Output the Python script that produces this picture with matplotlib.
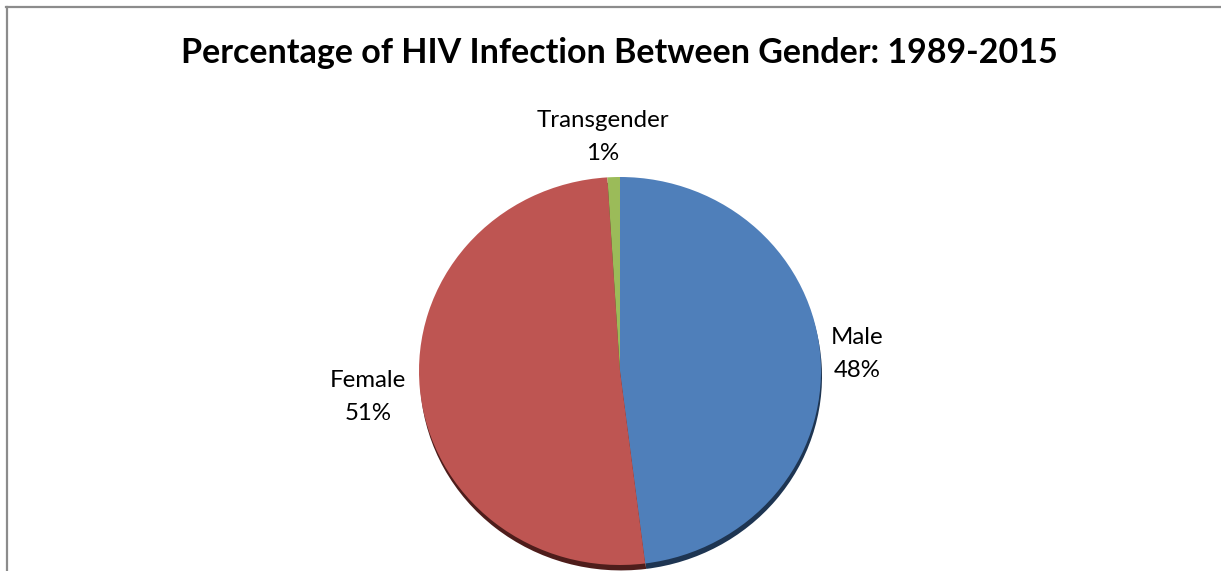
import numpy as np
import matplotlib.pyplot as plt
from matplotlib.lines import Line2D

# datos del grafico
categorias = ['Male', 'Female', 'Transgender']
porcentajes = [48, 51, 1]
colores = ['#4F7FBA', '#BE5552', '#9BBB59']
sombras = ['#1E3552', '#4E1D1B', '#3E4C24']
titulo = 'Percentage of HIV Infection Between Gender: 1989-2015'

W, H = 1221, 571
fig = plt.figure(figsize=(W / 100, H / 100), dpi=100)
ax = fig.add_axes([0, 0, 1, 1])

# sombra un poco desplazada hacia abajo
ax.pie(porcentajes, colors=sombras, startangle=90, counterclock=False,
       center=(0.005, -0.028), wedgeprops=dict(linewidth=0))
ax.pie(porcentajes, colors=colores, startangle=90, counterclock=False,
       wedgeprops=dict(linewidth=0))

# escala en pixeles: radio horizontal 201 px, vertical 194 px
cx, cy = 620, 200
ax.set_aspect('auto')
ax.set_xlim(-cx / 201, (W - cx) / 201)
ax.set_ylim(-cy / 194, (H - cy) / 194)
ax.axis('off')

plt.rcParams['font.family'] = ['Lato', 'DejaVu Sans']

fig.text(619 / W, 1 - 53 / H, titulo, ha='center', va='center',
         fontsize=24.5, fontweight='bold')

pos_etiquetas = [(857, 354), (368, 397), (603, 137)]
for nombre, p, (x, y) in zip(categorias, porcentajes, pos_etiquetas):
    fig.text(x / W, 1 - y / H, f'{nombre}\n{p}%', ha='center', va='center',
             fontsize=17.3, linespacing=1.7)

# borde del grafico (arriba e izquierda)
fig.add_artist(Line2D([6 / W, 1], [1 - 7 / H, 1 - 7 / H], color='#8C8C8C', lw=1.6,
                      transform=fig.transFigure))
fig.add_artist(Line2D([7 / W, 7 / W], [0, 1 - 7 / H], color='#8C8C8C', lw=1.6,
                      transform=fig.transFigure))

plt.savefig('out.png', dpi=100)
